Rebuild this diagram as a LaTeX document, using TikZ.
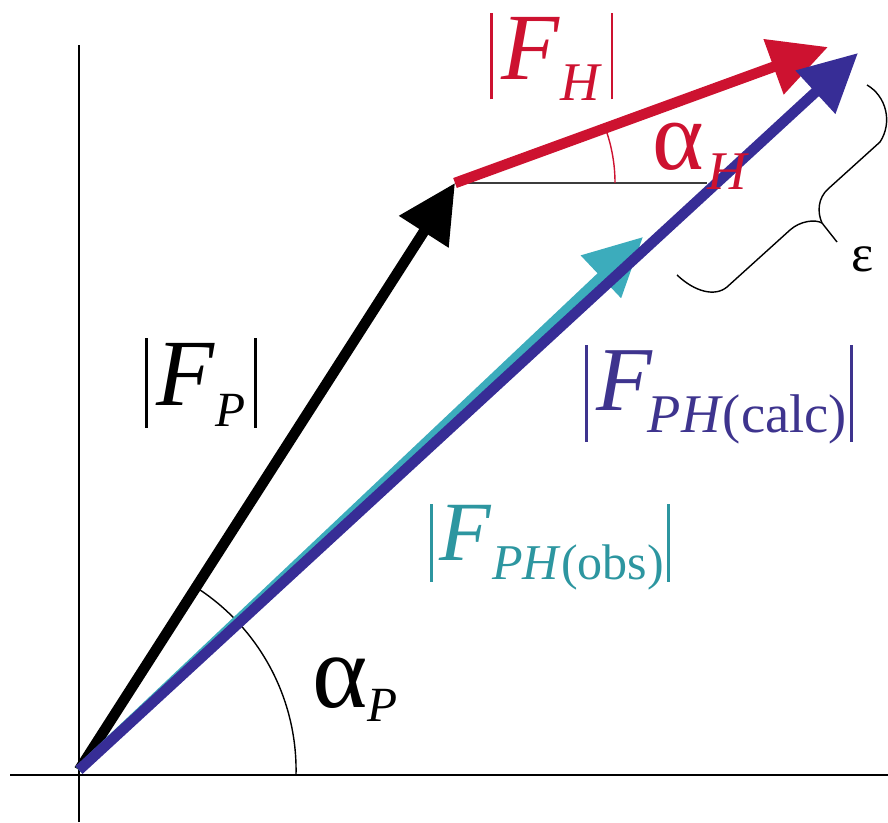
\documentclass[tikz,border=0pt]{standalone}
\usepackage{fontspec}
\setmainfont{Liberation Serif}
\usetikzlibrary{arrows.meta}
\definecolor{fred}{RGB}{205,18,48}
\definecolor{fnavy}{RGB}{55,45,150}
\definecolor{fnavytext}{RGB}{62,52,142}
\definecolor{fcyan}{RGB}{60,172,188}
\definecolor{fcyantext}{RGB}{45,150,160}
\definecolor{fgray}{RGB}{60,60,60}
\newcommand{\absbar}[2]{\rule[-#2]{1.4pt}{\dimexpr #1+#2\relax}}
\begin{document}
\begin{tikzpicture}[x=0.02cm,y=0.02cm,
  vec/.style={line width=6pt,-{Triangle[length=33pt,width=32pt]}},
  thinline/.style={line width=0.8pt},
  axisline/.style={line width=1.5pt},
  lab/.style={inner sep=0pt,anchor=base west}]
\useasboundingbox (0,0) rectangle (888,822);
% key points
\coordinate (O) at (79,52);
\coordinate (P) at (455,639);
\coordinate (H) at (828,775);
\coordinate (B) at (858,769);
\coordinate (C) at (643,585);
\coordinate (Hend) at (707,639);
\coordinate (AxL) at (10,47);
\coordinate (AxR) at (888,47);
\coordinate (AxB) at (79,0);
\coordinate (AxT) at (79,777);
% axes
\draw[axisline] (AxL) -- (AxR);
\draw[axisline] (AxB) -- (AxT);
% angle arcs
\draw[thinline] (O) ++(217,-5) arc[start angle=-1.3,end angle=57.3,radius=217];
\draw[line width=1.3pt,fgray] (P) -- (Hend);
\draw[thinline,fred] (P) ++(160,0) arc[start angle=0,end angle=19.9,radius=160];
% brace
\draw[thinline] (867,737) .. controls (886,726) and (893,700) .. (880,680)
  -- (828,633) .. controls (818,624) and (817,610) .. (822,599) -- (837,580);
\draw[thinline] (822,599) .. controls (815,603) and (800,601) .. (790,592)
  -- (727,535) .. controls (715,525) and (695,530) .. (677,547);
% vectors
\draw[vec,black] (O) -- (P);
\draw[vec,fcyan,line width=5.5pt] (O) -- (C);
\draw[vec,fred] (P) -- (H);
\draw[vec,fnavy] (O) -- (B);
% labels
\node[lab] (lFP) at (145,417) {\fontsize{54}{54}\selectfont\absbar{38pt}{13pt}\kern5pt\textit{F}\raisebox{-12.5pt}{\fontsize{28}{28}\selectfont\textit{P}}\kern5pt\absbar{38pt}{13pt}};
\node[lab,text=fred,color=fred] (lFH) at (490,742) {\fontsize{54}{54}\selectfont\absbar{38pt}{11pt}\kern5pt\textit{F}\raisebox{-11.5pt}{\fontsize{31}{31}\selectfont\textit{H}}\kern5pt\absbar{38pt}{11pt}};
\node[lab,text=fnavytext,color=fnavytext] (lFC) at (585,412) {\fontsize{52}{52}\selectfont\absbar{37pt}{18pt}\kern5pt\textit{F}\kern-3pt\raisebox{-13pt}{\fontsize{31}{31}\selectfont\textit{PH}(calc)}\kern2pt\absbar{37pt}{18pt}};
\node[lab,text=fcyantext,color=fcyantext] (lFO) at (430,262) {\fontsize{48}{48}\selectfont\absbar{32pt}{12.5pt}\kern4pt\textit{F}\raisebox{-11pt}{\fontsize{28.5}{28.5}\selectfont\textit{PH}(obs)}\kern2pt\absbar{32pt}{12.5pt}};
\node[lab,text=fred] (laH) at (652,652) {\fontsize{56}{56}\selectfont α\raisebox{-11pt}{\fontsize{31}{31}\selectfont\kern2pt\textit{H}}};
\node[lab] (laP) at (312,115) {\fontsize{60}{60}\selectfont α\raisebox{-8.5pt}{\fontsize{28}{28}\selectfont\textit{P}}};
\node[lab] (leps) at (851,550) {\fontsize{30}{30}\selectfont ε};
\end{tikzpicture}
\end{document}
